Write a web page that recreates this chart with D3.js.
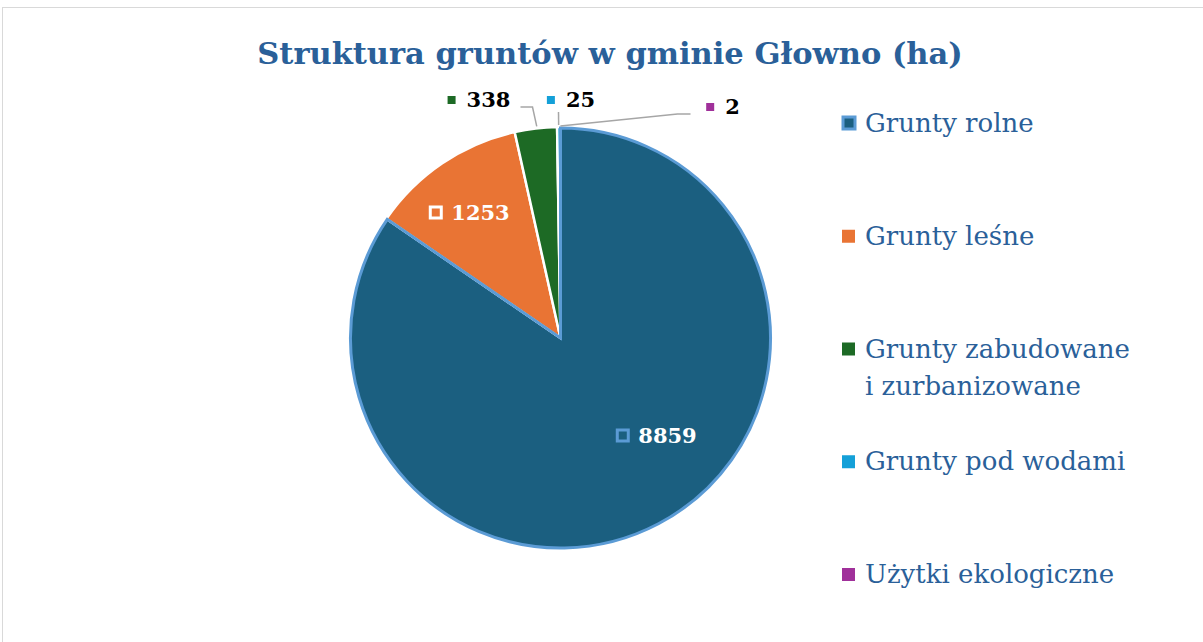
<!DOCTYPE html>
<meta charset="utf-8">
<style>
body { margin: 0; background: #fff; }
svg { display: block; }
text { font-family: "DejaVu Serif", serif; }
</style>
<svg width="1203" height="642"></svg>
<script src="https://cdn.jsdelivr.net/npm/d3@7"></script>
<script>
// data
var categories = ["Grunty rolne", "Grunty leśne", "Grunty zabudowane i zurbanizowane", "Grunty pod wodami", "Użytki ekologiczne"];
var legendLines = [["Grunty rolne"], ["Grunty leśne"], ["Grunty zabudowane", "i zurbanizowane"], ["Grunty pod wodami"], ["Użytki ekologiczne"]];
var values = [8859, 1253, 338, 25, 2];
var colors = ["#1b5f80", "#e97434", "#1d6a25", "#14a0d8", "#a0309a"];
var title = "Struktura gruntów w gminie Głowno (ha)";

var svg = d3.select("svg"),
    width = +svg.attr("width"),
    height = +svg.attr("height");

// frame
svg.append("rect")
    .attr("x", 2.5).attr("y", 7.5)
    .attr("width", 1230).attr("height", 660)
    .attr("fill", "none").attr("stroke", "#d9d9d9").attr("stroke-width", 1);

svg.append("text")
    .attr("x", 610).attr("y", 64)
    .attr("text-anchor", "middle")
    .attr("font-size", 30.5).attr("font-weight", "bold")
    .attr("fill", "#2a6099")
    .text(title);

var cx = 560.5, cy = 338, r = 211;

var pie = d3.pie().sort(null).value(function(d) { return d; });
var arcs = pie(values);
var arc = d3.arc().innerRadius(0).outerRadius(r);

var g = svg.append("g").attr("transform", "translate(" + cx + "," + cy + ")");

g.selectAll("path.slice")
    .data(arcs)
    .enter().append("path")
    .attr("class", "slice")
    .attr("d", arc)
    .attr("fill", function(d, i) { return colors[i]; })
    .attr("stroke", "#fff")
    .attr("stroke-width", 2.5)
    .attr("stroke-linejoin", "round");

// light blue outline on the biggest slice
g.append("path")
    .attr("d", d3.arc().innerRadius(0).outerRadius(r - 1)(arcs[0]))
    .attr("fill", "none")
    .attr("stroke", "#5b9bd5")
    .attr("stroke-width", 3);

// point at the outer edge of a slice's middle
function edgePoint(d, k) {
  var a = (d.startAngle + d.endAngle) / 2;
  return [Math.sin(a) * r * k, -Math.cos(a) * r * k];
}

// label layout (offset from pie centre), inside labels first
var labelPos = [[107, 98], [-80, -125], [-72, -238], [20, -238], [172, -231]];
var inside = [true, true, false, false, false];

var leader = d3.line();
arcs.forEach(function(d, i) {
  var p = labelPos[i];
  if (!inside[i]) {
    var e = edgePoint(d, 1.0);
    var pts;
    if (i == 2) pts = [[p[0] + 32, p[1] + 7], [p[0] + 44, p[1] + 7], [e[0] + 1, e[1] - 2]];
    else if (i == 3) pts = [[-2, p[1] + 12], [e[0], e[1] - 2]];
    else pts = [[p[0] - 42, p[1] + 7], [p[0] - 55, p[1] + 7], [e[0], e[1] - 1]];
    g.append("path")
      .attr("d", leader(pts))
      .attr("fill", "none")
      .attr("stroke", "#a6a6a6")
      .attr("stroke-width", 1.5);
  }
});

arcs.forEach(function(d, i) {
  var p = labelPos[i];
  var lg = g.append("g").attr("transform", "translate(" + p[0] + "," + p[1] + ")");
  var txt = lg.append("text")
    .attr("x", 0).attr("y", 0)
    .attr("dy", "0.35em")
    .attr("text-anchor", "middle")
    .attr("font-size", 21).attr("font-weight", "bold")
    .attr("fill", inside[i] ? "#fff" : "#000")
    .text(values[i]);
  var w = txt.node().getComputedTextLength();
  var mx = -w / 2 - 20;
  if (i == 0) {
    lg.append("rect").attr("x", mx - 1).attr("y", -6).attr("width", 11).attr("height", 11)
      .attr("fill", colors[i]).attr("stroke", "#5b9bd5").attr("stroke-width", 3);
  } else if (i == 1) {
    lg.append("rect").attr("x", mx - 1).attr("y", -6).attr("width", 11).attr("height", 11)
      .attr("fill", colors[i]).attr("stroke", "#fff").attr("stroke-width", 3);
  } else {
    lg.append("rect").attr("x", mx + 1).attr("y", -4).attr("width", 8).attr("height", 8)
      .attr("fill", colors[i]);
  }
});

// legend
var legendY = d3.scaleLinear().domain([0, categories.length - 1]).range([123, 574]);
var leg = svg.append("g");
categories.forEach(function(c, i) {
  var y = legendY(i);
  if (i == 0) {
    leg.append("rect").attr("x", 843).attr("y", y - 6).attr("width", 12).attr("height", 12)
      .attr("fill", colors[i]).attr("stroke", "#5b9bd5").attr("stroke-width", 3);
  } else {
    leg.append("rect").attr("x", 842).attr("y", y - 6).attr("width", 13).attr("height", 13)
      .attr("fill", colors[i]);
  }
  legendLines[i].forEach(function(line, j) {
    leg.append("text")
      .attr("x", 865).attr("y", y + j * 37)
      .attr("dy", "0.35em")
      .attr("font-size", 26)
      .attr("fill", "#2a6099")
      .text(line);
  });
});
</script>
